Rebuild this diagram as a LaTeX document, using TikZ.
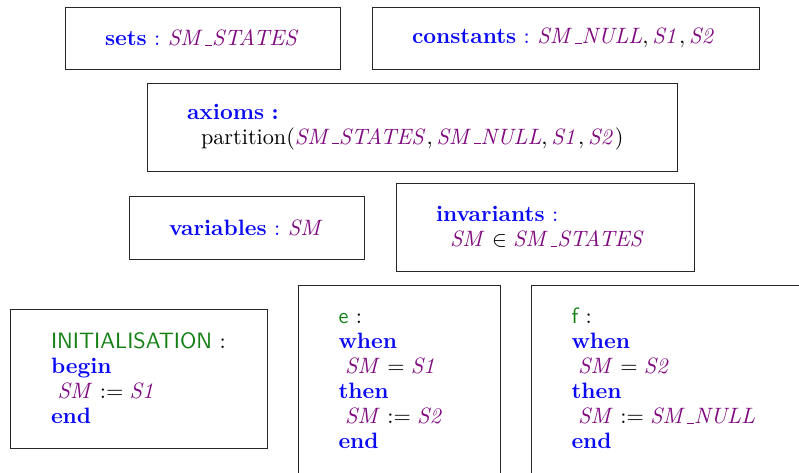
\documentclass[tikz,border=0pt]{standalone}
\usepackage{amsmath}
\definecolor{kwc}{RGB}{10,10,245}
\definecolor{idc}{RGB}{128,10,128}
\definecolor{evc}{RGB}{20,128,20}
\newcommand{\myus}{\mbox{\kern.06em\vbox{\hrule width.3em}}}
\newcommand{\myid}[1]{\textcolor{idc}{\ensuremath{\mathit{#1}}}}
\newcommand{\mykw}[1]{\textcolor{kwc}{\bfseries #1}}
\newcommand{\myev}[1]{\textcolor{evc}{\sffamily #1}}
\begin{document}
\begin{tikzpicture}[x=0.45pt,y=-0.45pt,
  box/.style={draw=black!85, line width=0.45pt, align=left, inner xsep=18pt, inner ysep=0pt,
    font=\fontsize{10}{11.25}\selectfont},
  evbox/.style={box, anchor=north west, inner ysep=9.3pt, text depth=80pt}]
\useasboundingbox (0,0) rectangle (799,472);
\clip (0,0) rectangle (799,472);
\node[box, text width=87.75pt, minimum height=27.9pt] (sets) at (202.5,38)
  {\mbox{\mykw{sets} \textcolor{kwc}{:}\hspace{3.4pt}\myid{SM\myus STATES}}};
\node[box, text width=138.15pt, minimum height=27.9pt] (consts) at (565.5,38)
  {\mbox{\mykw{constants} \textcolor{kwc}{:}\hspace{3.4pt}$\myid{SM\myus NULL}, \myid{S1}, \myid{S2}$}};
\node[box, text width=202.5pt, minimum height=39.6pt] (axioms) at (412,127)
  {\mykw{axioms :}\\
   \mbox{\hspace*{6.3pt}partition$(\myid{SM\myus STATES}, \myid{SM\myus NULL}, \myid{S1}, \myid{S2})$}};
\node[box, text width=69.75pt, minimum height=28.35pt] (vars) at (246.5,227.5)
  {\mbox{\mykw{variables} \textcolor{kwc}{:}\hspace{3.4pt}\myid{SM}}};
\node[box, text width=98.1pt, minimum height=39.6pt] (invs) at (545,227)
  {\mykw{invariants} \textcolor{kwc}{:}\\
   \mbox{\hspace*{6.3pt}$\myid{SM} \in \myid{SM\myus STATES}$}};
\node[box, text width=79.2pt, minimum height=62.55pt] (init) at (139,378.5)
  {\myev{INITIALISATION} :\\
   \mykw{begin}\\
   \hspace*{3pt}$\myid{SM} \mathrel{:=} \myid{S1}$\\
   \mykw{end}};
\node[evbox, text width=54.9pt] (eve) at (298,285)
  {\strut\myev{e} :\\
   \mykw{when}\\
   \hspace*{3pt}$\myid{SM} = \myid{S1}$\\
   \mykw{then}\\
   \mbox{\hspace*{3pt}$\myid{SM} \mathrel{:=} \myid{S2}$}\\
   \mykw{end}};
\node[evbox, text width=99pt] (evf) at (531,285)
  {\strut\myev{f} :\\
   \mykw{when}\\
   \hspace*{3pt}$\myid{SM} = \myid{S2}$\\
   \mykw{then}\\
   \mbox{\hspace*{3pt}$\myid{SM} \mathrel{:=} \myid{SM\myus NULL}$}\\
   \mykw{end}};
\end{tikzpicture}
\end{document}
